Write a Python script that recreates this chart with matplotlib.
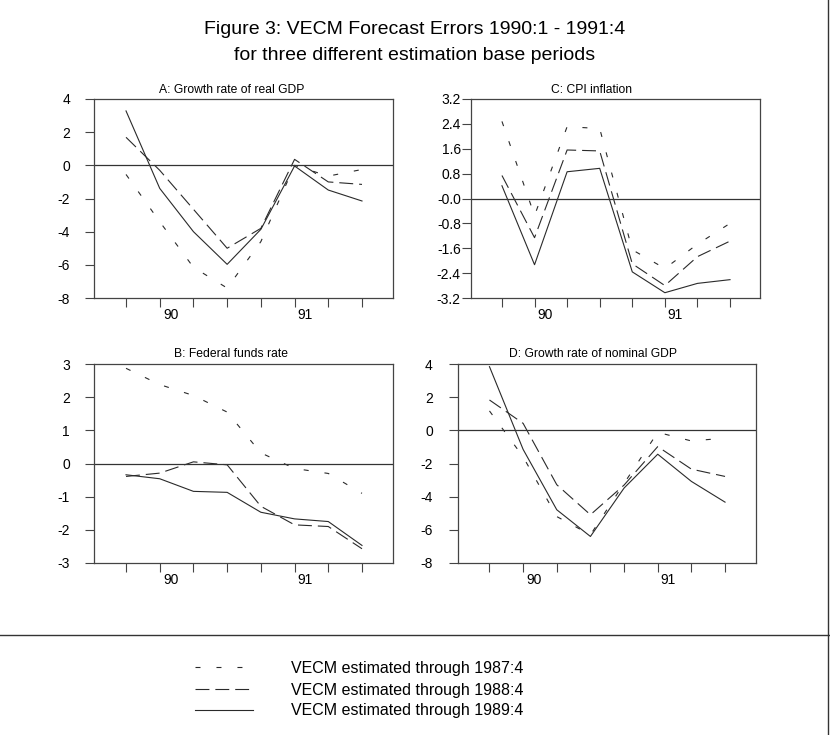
import matplotlib
matplotlib.use("Agg")
import matplotlib.pyplot as plt
from matplotlib.lines import Line2D

plt.rcParams['font.family'] = ['Liberation Sans', 'DejaVu Sans']
plt.rcParams['lines.scale_dashes'] = False

# quarters 1990:1 .. 1991:4
quarters = list(range(8))
year_labels = ["90", "91"]
year_label_pos = [1.33, 5.3]

series_names = ["VECM estimated through 1987:4",
                "VECM estimated through 1988:4",
                "VECM estimated through 1989:4"]

# Panel A: Growth rate of real GDP
a_87 = [-0.55, -3.4, -6.15, -7.4, -4.6, 0.0, -0.65, -0.25]
a_88 = [1.69, -0.3, -2.65, -5.0, -3.8, 0.36, -1.0, -1.15]
a_89 = [3.28, -1.39, -4.0, -5.97, -3.86, -0.04, -1.49, -2.15]

# Panel C: CPI inflation
c_87 = [2.48, -0.55, 2.31, 2.25, -1.65, -2.25, -1.47, -0.8]
c_88 = [0.74, -1.26, 1.56, 1.53, -2.1, -2.8, -1.87, -1.37]
c_89 = [0.41, -2.13, 0.86, 0.97, -2.36, -3.03, -2.73, -2.61]

# Panel B: Federal funds rate
b_87 = [2.87, 2.38, 2.05, 1.55, 0.32, -0.15, -0.3, -0.9]
b_88 = [-0.39, -0.29, 0.05, -0.04, -1.29, -1.85, -1.9, -2.57]
b_89 = [-0.34, -0.46, -0.84, -0.87, -1.47, -1.67, -1.75, -2.47]

# Panel D: Growth rate of nominal GDP
d_87 = [1.17, -1.6, -5.2, -6.3, -3.2, -0.12, -0.64, -0.47]
d_88 = [1.83, 0.42, -3.28, -5.09, -3.3, -0.98, -2.34, -2.78]
d_89 = [3.84, -1.15, -4.79, -6.4, -3.48, -1.44, -3.08, -4.33]

titles = ["A: Growth rate of real GDP", "C: CPI inflation",
          "B: Federal funds rate", "D: Growth rate of nominal GDP"]
a_ticks = [-8, -6, -4, -2, 0, 2, 4]
c_ticks = [-3.2, -2.4, -1.6, -0.8, 0.0, 0.8, 1.6, 2.4, 3.2]
c_ticklabels = ["-3.2", "-2.4", "-1.6", "-0.8", "-0.0", "0.8", "1.6", "2.4", "3.2"]
b_ticks = [-3, -2, -1, 0, 1, 2, 3]
d_ticks = [-8, -6, -4, -2, 0, 2, 4]

W, H = 830, 735
fig = plt.figure(figsize=(W / 100, H / 100), dpi=100)

LINE_COL = "#2a2a2a"
SPINE_COL = "#444444"
short_dash = (0, (3.6, 11.5))
long_dash = (0, (10.0, 4.3))
LW = 0.8
TICK_FS = 10


def px_axes(l, t, r, b):
    return fig.add_axes([l / W, 1 - b / H, (r - l) / W, (b - t) / H])


def setup(ax, data, yticks, ylabels, ylim, pad):
    s87, s88, s89 = data
    ax.plot(quarters, s87, color=LINE_COL, lw=LW, linestyle=short_dash)
    ax.plot(quarters, s88, color=LINE_COL, lw=LW, linestyle=long_dash)
    ax.plot(quarters, s89, color=LINE_COL, lw=LW, linestyle='-')
    ax.axhline(0, color="#333333", lw=0.9)
    ax.set_xlim(-0.95, 7.92)
    ax.set_ylim(*ylim)
    ax.set_yticks(yticks)
    ax.set_yticklabels(ylabels)
    ax.set_xticks(quarters)
    ax.set_xticklabels([])
    ax.set_xticks(year_label_pos, minor=True)
    ax.set_xticklabels(year_labels, minor=True)
    ax.tick_params(axis='x', which='major', direction='out', length=6.3,
                   width=0.8, color=SPINE_COL)
    ax.tick_params(axis='x', which='minor', length=0, pad=7.0, labelsize=TICK_FS)
    ax.tick_params(axis='y', direction='out', length=6.3, width=0.8,
                   color=SPINE_COL, pad=pad, labelsize=TICK_FS)
    for sp in ax.spines.values():
        sp.set_color(SPINE_COL)
        sp.set_linewidth(0.9)


axA = px_axes(94, 99, 393, 298)
setup(axA, (a_87, a_88, a_89), a_ticks, [str(v) for v in a_ticks], (-8, 4), 11.0)
axC = px_axes(471, 99, 760, 298)
setup(axC, (c_87, c_88, c_89), c_ticks, c_ticklabels, (-3.2, 3.2), 1.0)
axB = px_axes(94, 364, 393, 563)
setup(axB, (b_87, b_88, b_89), b_ticks, [str(v) for v in b_ticks], (-3, 3), 11.0)
axD = px_axes(457.5, 364, 756, 563)
setup(axD, (d_87, d_88, d_89), d_ticks, [str(v) for v in d_ticks], (-8, 4), 11.5)

# panel titles
title_pos = [(231.5, 90), (591.7, 90), (231, 354), (593.3, 354)]
for t, (x, y) in zip(titles, title_pos):
    fig.text(x / W, 1 - y / H, t, ha='center', va='center', fontsize=8.7)

# header
fig.text(0.499, 1 - 30 / H, "Figure 3: VECM Forecast Errors 1990:1 - 1991:4",
         ha='center', va='center', fontsize=14)
fig.text(0.499, 1 - 55 / H, "for three different estimation base periods",
         ha='center', va='center', fontsize=14)

# frame lines
fig.add_artist(Line2D([0, 1], [1 - 635 / H, 1 - 635 / H], transform=fig.transFigure,
                      color="#333333", lw=1.0))
fig.add_artist(Line2D([827.5 / W, 827.5 / W], [0, 1], transform=fig.transFigure,
                      color="#333333", lw=1.0))

# legend
leg_styles = [short_dash, long_dash, '-']
leg_y = [667, 689, 710]
for name, ls, y in zip(series_names, leg_styles, leg_y):
    fig.add_artist(Line2D([195 / W, 253 / W], [1 - y / H, 1 - y / H],
                          transform=fig.transFigure, color=LINE_COL, lw=LW,
                          linestyle=ls))
    fig.text(291 / W, 1 - (y + 1) / H, name, ha='left', va='center', fontsize=11.5)

fig.savefig("out.png", dpi=100)
